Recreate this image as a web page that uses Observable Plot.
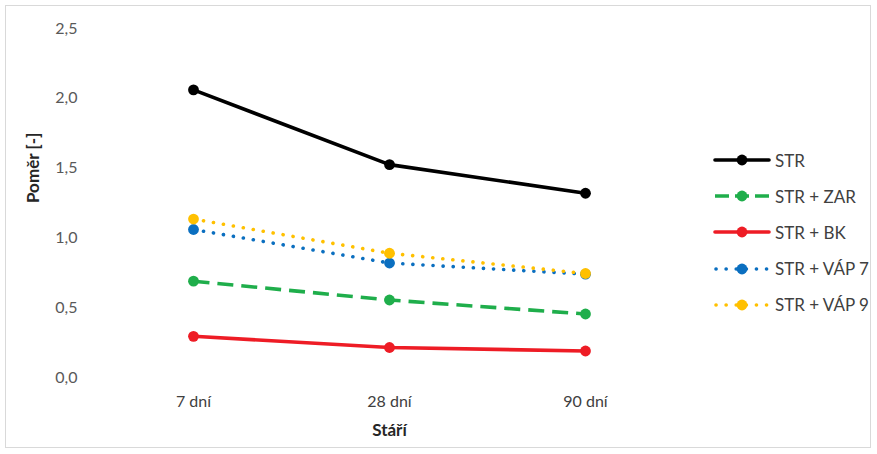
<!DOCTYPE html>
<html>
<head>
<meta charset="utf-8">
<script src="https://cdn.jsdelivr.net/npm/d3@7"></script>
<script src="https://cdn.jsdelivr.net/npm/@observablehq/plot@0.6"></script>
<style>
  html, body { margin: 0; padding: 0; background: #fff; }
  #wrap { position: relative; width: 877px; height: 454px; font-family: Lato, "Open Sans", sans-serif; }
  #border { position: absolute; left: 5px; top: 5px; width: 866px; height: 443px; border: 1px solid #d9d9d9; box-sizing: border-box; pointer-events: none; }
  #legend { position: absolute; left: 713px; top: 142px; }
  .item { display: flex; align-items: center; height: 36.2px; font-size: 17px; color: #404040; }
  .item svg { margin-right: 4px; }
</style>
</head>
<body>
<div id="wrap"><div id="border"></div><div id="legend"></div></div>
<script>
// Age of the specimens (x categories)
const ages = ["7 dní", "28 dní", "90 dní"];

// Series names, in drawing/legend order
const seriesNames = ["STR", "STR + ZAR", "STR + BK", "STR + VÁP 7", "STR + VÁP 9"];

// Ratio values per series, one per age
const valuesSTR   = [2.06, 1.525, 1.32];
const valuesZAR   = [0.69, 0.555, 0.455];
const valuesBK    = [0.295, 0.215, 0.19];
const valuesVAP7  = [1.06, 0.82, 0.74];
const valuesVAP9  = [1.135, 0.89, 0.745];

// Y axis ticks
const yTicks = [0, 0.5, 1.0, 1.5, 2.0, 2.5];

const seriesValues = [valuesSTR, valuesZAR, valuesBK, valuesVAP7, valuesVAP9];

const styles = {
  "STR":         { color: "#000000", dash: null,      cap: "round" },
  "STR + ZAR":   { color: "#1fae4b", dash: "16 8",    cap: "butt" },
  "STR + BK":    { color: "#ee1c25", dash: null,      cap: "round" },
  "STR + VÁP 7": { color: "#0b6fc0", dash: "0.1 10",  cap: "round" },
  "STR + VÁP 9": { color: "#ffc000", dash: "0.1 10",  cap: "round" }
};

const rows = seriesNames.flatMap((name, i) =>
  ages.map((age, j) => ({ series: name, age, value: seriesValues[i][j] }))
);

const lineMarks = seriesNames.flatMap(name => {
  const s = styles[name];
  const d = rows.filter(r => r.series === name);
  return [
    Plot.line(d, {
      x: "age", y: "value",
      stroke: s.color, strokeWidth: 3.6,
      strokeDasharray: s.dash, strokeLinecap: s.cap, strokeLinejoin: "round"
    }),
    Plot.dot(d, { x: "age", y: "value", r: 5.4, fill: s.color, stroke: "none" })
  ];
});

const chart = Plot.plot({
  width: 877,
  height: 454,
  marginLeft: 95,
  marginRight: 194,
  marginTop: 28,
  marginBottom: 77,
  style: { fontFamily: "Lato, 'Open Sans', sans-serif", background: "transparent" },
  x: { type: "point", domain: ages, padding: 0.5, label: null },
  y: { domain: [0, 2.5], label: null },
  marks: [
    Plot.gridY(yTicks, { stroke: "#d9d9d9", strokeOpacity: 1, strokeWidth: 1.2, x1: 95, x2: 683 }),
    Plot.axisY(yTicks, {
      tickSize: 0, tickPadding: 18, fontSize: 16, fill: "#595959",
      tickFormat: d => d.toFixed(1).replace(".", ","), label: null
    }),
    Plot.axisX(ages, {
      tickSize: 0, tickPadding: 18, fontSize: 16, fill: "#404040", label: null
    }),
    ...lineMarks,
    Plot.text(["Stáří"], {
      frameAnchor: "bottom", dy: 58, fontSize: 17, fontWeight: "bold", fill: "#262626"
    }),
    Plot.text(["Poměr [-]"], {
      frameAnchor: "left", dx: -62, rotate: -90, fontSize: 17, fontWeight: "bold", fill: "#262626"
    })
  ]
});

document.getElementById("wrap").prepend(chart);

// Legend: line sample with marker, then name
const legend = d3.select("#legend");
seriesNames.forEach(name => {
  const s = styles[name];
  const item = legend.append("div").attr("class", "item");
  const svg = item.append("svg").attr("width", 58).attr("height", 14);
  svg.append("line")
    .attr("x1", s.dash && s.cap === "round" ? 3 : 2).attr("x2", 56)
    .attr("y1", 7).attr("y2", 7)
    .attr("stroke", s.color).attr("stroke-width", 3.6)
    .attr("stroke-linecap", s.cap)
    .attr("stroke-dasharray", s.dash === "16 8" ? "14 6" : s.dash);
  svg.append("circle").attr("cx", 29).attr("cy", 7).attr("r", 5.4).attr("fill", s.color);
  item.append("span").text(name);
});
</script>
</body>
</html>
